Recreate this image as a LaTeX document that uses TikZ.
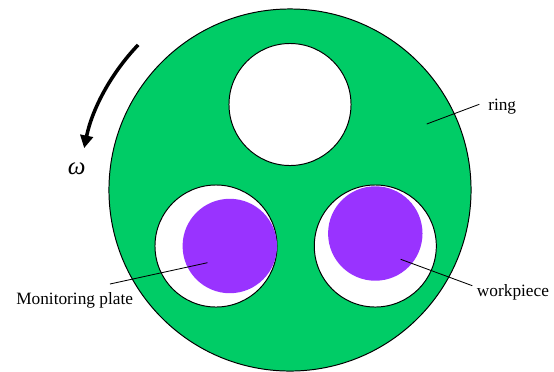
\documentclass[tikz,border=0pt]{standalone}
\usepackage{fontspec}
\setmainfont{Liberation Serif}
\usetikzlibrary{arrows.meta,calc}
\definecolor{ringgreen}{RGB}{0,204,102}
\definecolor{platepurple}{RGB}{153,51,255}

\begin{document}
\begin{tikzpicture}[x=0.025cm, y=-0.025cm,
  font=\fontsize{12.3}{14}\selectfont,
  >={Triangle[length=9pt, width=9pt]},
  disc/.style={circle, inner sep=0pt, line width=0.7pt},
  lead/.style={line width=0.6pt},
  lbl/.style={inner sep=0pt, anchor=base west}]
  \useasboundingbox (0,0) rectangle (554,371);
  % ring and its three holes
  \node[disc, draw, fill=ringgreen, minimum size=9.05cm] (ring) at (290,190) {};
  \node[disc, draw, fill=white, minimum size=3.05cm] (holeT) at (290,104.5) {};
  \node[disc, draw, fill=white, minimum size=3.05cm] (holeL) at (216,246) {};
  \node[disc, draw, fill=white, minimum size=3.05cm] (holeR) at (375.3,246) {};
  \node[disc, fill=platepurple, minimum size=2.36cm] (plate) at (229.8,246) {};
  \node[disc, fill=platepurple, minimum size=2.36cm] (work) at (375.3,233.5) {};

  % labels
  \node[lbl] (mplabel) at (16,304) {Monitoring plate};
  \node[lbl] (ringlabel) at (488,110) {ring};
  \node[lbl] (wplabel) at (476.7,296.7) {workpiece};
  \node[font=\fontsize{17.8}{20}\selectfont\itshape] (omega) at (76.7,168.3) {ω};

  % leader lines
  \coordinate (ringdot) at (426.7,124);
  \coordinate (ringend) at (479.3,104.3);
  \coordinate (platedot) at (207.5,262.7);
  \coordinate (plateend) at (110,284);
  \coordinate (workdot) at (400.7,259.3);
  \coordinate (workend) at (472.3,285.7);
  \draw[lead] (ringdot) -- (ringend);
  \draw[lead] (platedot) -- (plateend);
  \draw[lead] (workdot) -- (workend);

  % rotation
  \draw[->, line width=2.5pt] ($(ring.center)+(136.3:5.25cm)$)
    arc[start angle=136.3, end angle=168.5, radius=5.25cm];
\end{tikzpicture}
\end{document}
